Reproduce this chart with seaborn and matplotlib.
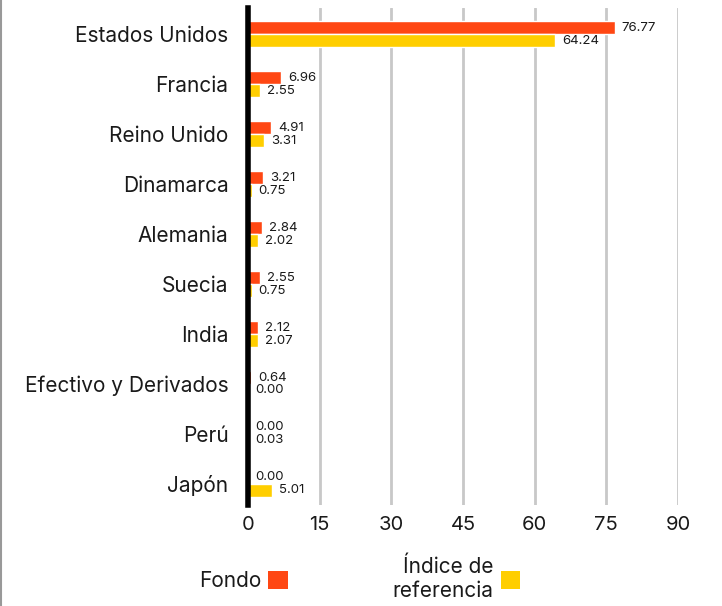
import seaborn as sns
import matplotlib.pyplot as plt
import pandas as pd
from matplotlib.patches import Patch
from matplotlib.lines import Line2D

# Datos: distribución geográfica (%)
paises = ["Estados Unidos", "Francia", "Reino Unido", "Dinamarca", "Alemania",
          "Suecia", "India", "Efectivo y Derivados", "Perú", "Japón"]
fondo = [76.77, 6.96, 4.91, 3.21, 2.84, 2.55, 2.12, 0.64, 0.00, 0.00]
indice = [64.24, 2.55, 3.31, 0.75, 2.02, 0.75, 2.07, 0.00, 0.03, 5.01]
series = ["Fondo", "Índice de\nreferencia"]
colores = ["#FF4713", "#FFCE00"]
ticks_x = [0, 15, 30, 45, 60, 75, 90]

df = pd.DataFrame({
    "pais": paises * 2,
    "valor": fondo + indice,
    "serie": [series[0]] * len(paises) + [series[1]] * len(paises),
})

sns.set_style("white")
plt.rcParams["font.family"] = ["Inter", "DejaVu Sans"]

fig = plt.figure(figsize=(7.22, 6.06), dpi=100)
ax = fig.add_axes([0.3435, 0.1667, 0.5955, 0.82])

sns.barplot(data=df, x="valor", y="pais", hue="serie", orient="h",
            palette=colores, width=0.52, saturation=1, ax=ax, legend=False)

# etiquetas de valor
for cont in ax.containers:
    ax.bar_label(cont, fmt="%.2f", padding=5, fontsize=9.5, color="#1a1a1a")

ax.set_xlim(0, 90)
ax.set_ylim(9.42, -0.52)
ax.set_xticks(ticks_x)
ax.set_xlabel("")
ax.set_ylabel("")
ax.grid(axis="x", color="#c8c8c8", linewidth=2)
ax.set_axisbelow(True)
for s in ["top", "right", "bottom"]:
    ax.spines[s].set_visible(False)
ax.spines["left"].set_color("black")
ax.spines["left"].set_linewidth(4)
ax.spines["left"].set_zorder(5)

ax.tick_params(axis="y", length=0, pad=14, labelsize=15, labelcolor="#1a1a1a")
ax.tick_params(axis="x", length=6, width=2, color="#c8c8c8", pad=2,
               labelsize=14.5, labelcolor="#1a1a1a")
ax.get_xticklines()[0].set_color("black")
ax.get_xticklines()[0].set_markeredgewidth(4)

# leyenda
handles = [Patch(facecolor=c, edgecolor="none") for c in colores]
leg = fig.legend(handles, series, loc="center", bbox_to_anchor=(0.498, 0.045),
                 ncol=2, frameon=False, markerfirst=False, fontsize=15,
                 handlelength=0.95, handleheight=0.95, handletextpad=0.35,
                 columnspacing=5.0)
for t in leg.get_texts():
    t.set_multialignment("right")
    t.set_color("#1a1a1a")

# borde gris a la izquierda
fig.add_artist(Line2D([0.002, 0.002], [0, 1], color="#999999", linewidth=1.5,
                      transform=fig.transFigure))

fig.savefig("out.png", dpi=100)
